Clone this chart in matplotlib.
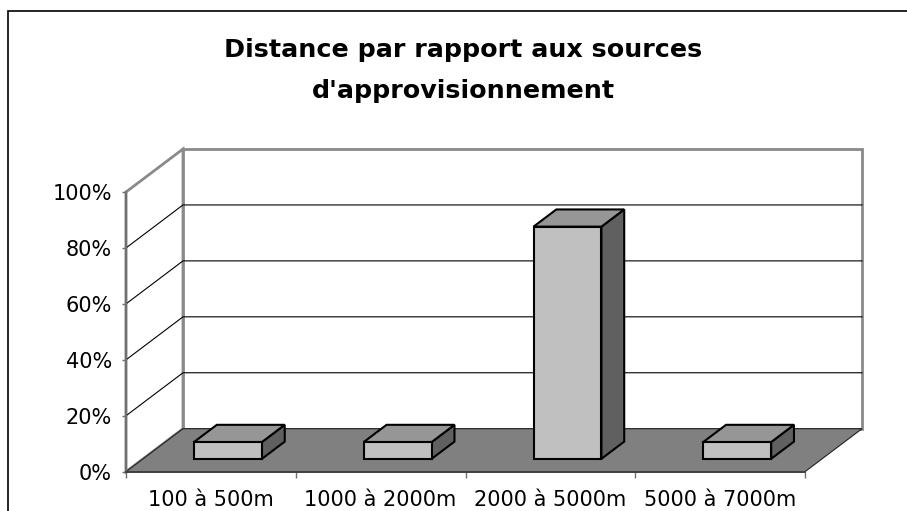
import matplotlib
matplotlib.use('Agg')
import matplotlib.pyplot as plt
from matplotlib.patches import Polygon, Rectangle
from matplotlib.ticker import FixedLocator, FuncFormatter, NullFormatter

# ---- data ----
categories = ["100 à 500m", "1000 à 2000m", "2000 à 5000m", "5000 à 7000m"]
values = [6, 6, 83, 6]
y_ticks = [0, 20, 40, 60, 80, 100]
title = "Distance par rapport aux sources\nd'approvisionnement"

# ---- figure ----
W, H, DPI = 907, 511, 100
plt.rcParams['font.family'] = ['DejaVu Sans']
fig = plt.figure(figsize=(W / DPI, H / DPI), dpi=DPI)
fig.patch.set_facecolor('white')

n = len(categories)
ax = fig.add_axes([126 / W, (H - 471.7) / H, 679 / W, 279.7 / H])
ax.set_xlim(0, n)
ax.set_ylim(0, 100)
ax.patch.set_visible(False)

# oblique projection of depth (d in 0..1) into data units
DX = 57 / 679 * n
DY = 43 / 279.7 * 100


def P(x, y, d):
    return (x + d * DX, y + d * DY)


def poly(pts, fc, ec, lw, z):
    ax.add_patch(Polygon(pts, closed=True, facecolor=fc, edgecolor=ec,
                         linewidth=lw, zorder=z, clip_on=False,
                         joinstyle='miter'))


ymax = y_ticks[-1]
wall_edge = '#8a8a8a'
# side wall and back wall
poly([P(0, 0, 0), P(0, 0, 1), P(0, ymax, 1), P(0, ymax, 0)], 'white', wall_edge, 2.0, 0.5)
poly([P(0, 0, 1), P(n, 0, 1), P(n, ymax, 1), P(0, ymax, 1)], 'white', wall_edge, 2.0, 0.5)

# gridlines on side and back walls
for v in y_ticks[1:-1]:
    xs = [P(0, v, 0)[0], P(0, v, 1)[0], P(n, v, 1)[0]]
    ys = [P(0, v, 0)[1], P(0, v, 1)[1], P(n, v, 1)[1]]
    ax.plot(xs, ys, color='black', linewidth=0.8, zorder=0.8, clip_on=False)

# floor
poly([P(0, 0, 0), P(n, 0, 0), P(n, 0, 1), P(0, 0, 1)], '#808080', '#202020', 0.8, 1.0)

# bars
bw, d0, d1 = 0.4, 0.3, 0.7
for i, v in enumerate(values):
    x0 = i + (1 - bw) / 2
    x1 = x0 + bw
    z = 3 + i * 0.1
    poly([P(x1, 0, d0), P(x1, v, d0), P(x1, v, d1), P(x1, 0, d1)], '#606060', 'black', 1.5, z)
    poly([P(x0, v, d0), P(x1, v, d0), P(x1, v, d1), P(x0, v, d1)], '#969696', 'black', 1.5, z)
    poly([P(x0, 0, d0), P(x1, 0, d0), P(x1, v, d0), P(x0, v, d0)], '#c0c0c0', 'black', 1.5, z + 0.01)

# axes: spines and ticks
for s in ['top', 'right']:
    ax.spines[s].set_visible(False)
ax.spines['left'].set_color('#707070')
ax.spines['left'].set_linewidth(1.6)
ax.spines['bottom'].set_color('#404040')
ax.spines['bottom'].set_linewidth(1.4)
ax.spines['left'].set_zorder(2)
ax.spines['bottom'].set_zorder(2)

ax.yaxis.set_major_locator(FixedLocator(y_ticks))
ax.yaxis.set_major_formatter(FuncFormatter(lambda v, p: f"{v:.0f}%"))
ax.tick_params(axis='y', which='major', length=3, width=1, color='#707070',
               pad=7, labelsize=15, labelcolor='black')

ax.xaxis.set_major_locator(FixedLocator(list(range(n + 1))))
ax.xaxis.set_major_formatter(NullFormatter())
ax.xaxis.set_minor_locator(FixedLocator([i + 0.5 for i in range(n)]))
ax.xaxis.set_minor_formatter(FuncFormatter(lambda v, p: categories[int(v)]))
ax.tick_params(axis='x', which='major', length=4, width=1, color='#707070')
ax.tick_params(axis='x', which='minor', length=0, pad=13, labelsize=15, labelcolor='black')

# title
fig.text(463 / W, 1 - 38 / H, title, ha='center', va='top', fontsize=18.3,
         fontweight='bold', linespacing=1.9, multialignment='center')

# chart area border (only left and top inside the picture)
fig.patches.append(Rectangle((8 / W, -0.5), 2.0, 0.5 + (1 - 11 / H),
                             transform=fig.transFigure, fill=False,
                             edgecolor='black', linewidth=1.2))

fig.savefig('out.png', dpi=DPI)
